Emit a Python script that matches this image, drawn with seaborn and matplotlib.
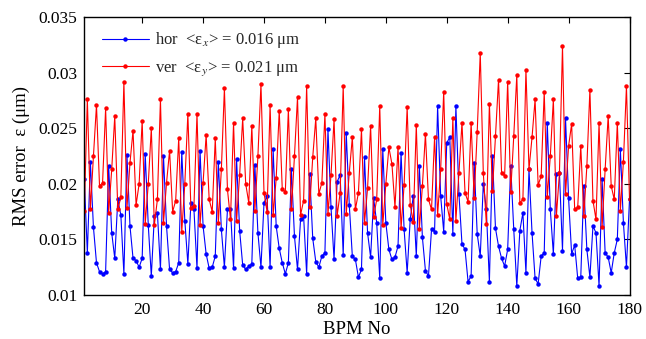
import matplotlib
matplotlib.use("Agg")
import matplotlib.pyplot as plt
import pandas as pd
import seaborn as sns

bpm = list(range(1, 181))

hor = [0.0204, 0.0138, 0.0220, 0.0161, 0.0129, 0.0121, 0.0119, 0.0121, 0.0216, 0.0156,
       0.0133, 0.0186, 0.0172, 0.0119, 0.0226, 0.0162, 0.0133, 0.0131, 0.0125, 0.0133,
       0.0227, 0.0163, 0.0117, 0.0171, 0.0174, 0.0123, 0.0225, 0.0162, 0.0123, 0.0120,
       0.0121, 0.0129, 0.0229, 0.0167, 0.0128, 0.0183, 0.0177, 0.0124, 0.0230, 0.0162,
       0.0137, 0.0124, 0.0125, 0.0135, 0.0220, 0.0159, 0.0125, 0.0177, 0.0177, 0.0124,
       0.0222, 0.0158, 0.0127, 0.0123, 0.0126, 0.0128, 0.0217, 0.0156, 0.0125, 0.0183,
       0.0189, 0.0125, 0.0231, 0.0162, 0.0142, 0.0129, 0.0119, 0.0129, 0.0213, 0.0153,
       0.0123, 0.0168, 0.0171, 0.0119, 0.0209, 0.0151, 0.0130, 0.0125, 0.0135, 0.0138,
       0.0249, 0.0179, 0.0132, 0.0202, 0.0208, 0.0136, 0.0246, 0.0181, 0.0135, 0.0132,
       0.0116, 0.0123, 0.0224, 0.0156, 0.0134, 0.0187, 0.0165, 0.0115, 0.0231, 0.0165,
       0.0141, 0.0132, 0.0134, 0.0144, 0.0228, 0.0159, 0.0120, 0.0168, 0.0189, 0.0135,
       0.0216, 0.0152, 0.0122, 0.0117, 0.0159, 0.0157, 0.0270, 0.0189, 0.0157, 0.0237,
       0.0242, 0.0155, 0.0270, 0.0191, 0.0146, 0.0141, 0.0112, 0.0117, 0.0219, 0.0155,
       0.0135, 0.0200, 0.0177, 0.0112, 0.0225, 0.0160, 0.0144, 0.0133, 0.0126, 0.0141,
       0.0216, 0.0159, 0.0108, 0.0158, 0.0174, 0.0120, 0.0213, 0.0156, 0.0115, 0.0110,
       0.0135, 0.0138, 0.0255, 0.0177, 0.0137, 0.0209, 0.0210, 0.0140, 0.0259, 0.0187,
       0.0137, 0.0145, 0.0115, 0.0116, 0.0198, 0.0141, 0.0116, 0.0162, 0.0156, 0.0108,
       0.0204, 0.0138, 0.0134, 0.0120, 0.0138, 0.0150, 0.0231, 0.0165, 0.0125, 0.0186]

ver = [0.0176, 0.0276, 0.0177, 0.0225, 0.0271, 0.0198, 0.0201, 0.0268, 0.0174, 0.0213,
       0.0261, 0.0177, 0.0188, 0.0292, 0.0178, 0.0219, 0.0248, 0.0181, 0.0200, 0.0257,
       0.0164, 0.0200, 0.0250, 0.0163, 0.0186, 0.0276, 0.0165, 0.0201, 0.0230, 0.0175,
       0.0185, 0.0241, 0.0157, 0.0200, 0.0263, 0.0178, 0.0180, 0.0263, 0.0163, 0.0201,
       0.0244, 0.0186, 0.0175, 0.0241, 0.0165, 0.0213, 0.0286, 0.0195, 0.0168, 0.0255,
       0.0167, 0.0208, 0.0259, 0.0200, 0.0183, 0.0252, 0.0176, 0.0225, 0.0290, 0.0192,
       0.0175, 0.0271, 0.0172, 0.0205, 0.0266, 0.0195, 0.0193, 0.0267, 0.0177, 0.0225,
       0.0278, 0.0172, 0.0185, 0.0288, 0.0179, 0.0224, 0.0259, 0.0191, 0.0201, 0.0263,
       0.0173, 0.0208, 0.0258, 0.0171, 0.0192, 0.0288, 0.0173, 0.0210, 0.0242, 0.0177,
       0.0192, 0.0249, 0.0165, 0.0196, 0.0252, 0.0170, 0.0186, 0.0270, 0.0163, 0.0200,
       0.0233, 0.0218, 0.0179, 0.0233, 0.0160, 0.0199, 0.0269, 0.0181, 0.0166, 0.0253,
       0.0159, 0.0198, 0.0245, 0.0186, 0.0177, 0.0242, 0.0172, 0.0213, 0.0283, 0.0182,
       0.0168, 0.0259, 0.0167, 0.0210, 0.0255, 0.0192, 0.0184, 0.0255, 0.0187, 0.0247,
       0.0318, 0.0210, 0.0164, 0.0272, 0.0194, 0.0243, 0.0294, 0.0210, 0.0207, 0.0292,
       0.0193, 0.0243, 0.0298, 0.0183, 0.0186, 0.0303, 0.0213, 0.0242, 0.0276, 0.0199,
       0.0207, 0.0283, 0.0188, 0.0225, 0.0276, 0.0171, 0.0210, 0.0324, 0.0191, 0.0234,
       0.0254, 0.0177, 0.0179, 0.0234, 0.0171, 0.0216, 0.0285, 0.0185, 0.0168, 0.0255,
       0.0161, 0.0213, 0.0261, 0.0198, 0.0186, 0.0255, 0.0176, 0.0220, 0.0288, 0.0186]

series_labels = ["hor  <ε$_x$> = 0.016 μm", "ver  <ε$_y$> = 0.021 μm"]
series_colors = ["#0000ff", "#ff0000"]
x_ticks = [20, 40, 60, 80, 100, 120, 140, 160, 180]
y_ticks = [0.01, 0.015, 0.02, 0.025, 0.03, 0.035]
y_tick_labels = ["0.01", "0.015", "0.02", "0.025", "0.03", "0.035"]
x_label = "BPM No"
y_label = "RMS error  ε (μm)"

df = pd.DataFrame({
    "BPM": bpm + bpm,
    "err": hor + ver,
    "plane": [series_labels[0]] * len(hor) + [series_labels[1]] * len(ver),
})

sns.set_theme(style="white")
plt.rcParams["font.family"] = ["Liberation Serif", "DejaVu Serif"]
plt.rcParams["mathtext.fontset"] = "stix"

W, H = 646, 339
fig = plt.figure(figsize=(W / 100, H / 100), dpi=100)
ax = fig.add_axes([84.3 / W, 1 - 295 / H, (629.5 - 84.3) / W, (295 - 17.3) / H])

sns.lineplot(data=df, x="BPM", y="err", hue="plane", palette=series_colors,
             marker="o", markersize=3.2, markeredgewidth=0, linewidth=0.8,
             estimator=None, sort=False, ax=ax)

ax.set_xlim(1, 180)
ax.set_ylim(0.01, 0.035)
ax.set_xticks(x_ticks)
ax.set_yticks(y_ticks)
ax.set_yticklabels(y_tick_labels)
ax.tick_params(direction="in", top=True, right=True, length=4, width=0.8,
               labelsize=12.5, colors="black", pad=5)
for s in ax.spines.values():
    s.set_color("black")
    s.set_linewidth(1.0)
ax.set_xlabel(x_label, fontsize=13.5, color="black", labelpad=2)
ax.set_ylabel(y_label, fontsize=13.5, color="black", labelpad=6)

handles, labels = ax.get_legend_handles_labels()
leg = ax.legend(handles, labels, loc="upper left", frameon=False, fontsize=12,
                handlelength=2.8, handletextpad=0.4, labelspacing=0.55,
                borderaxespad=0.3, bbox_to_anchor=(0.011, 0.995))

fig.savefig("out.png", dpi=100)
